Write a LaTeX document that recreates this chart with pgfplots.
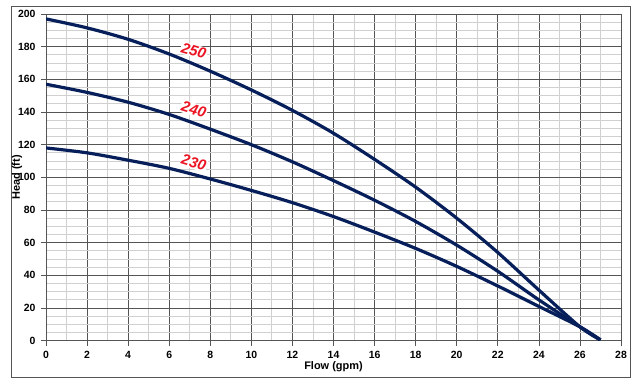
\documentclass[border=0pt]{standalone}
\usepackage{fontspec}
\setmainfont{Liberation Sans}
\usepackage{pgfplots}
\pgfplotsset{compat=1.18}
\definecolor{curve}{RGB}{6,30,90}
\definecolor{majg}{RGB}{85,85,85}
\definecolor{ming}{RGB}{208,208,208}
\definecolor{lab}{RGB}{235,20,35}
\begin{document}
\begin{tikzpicture}[x=1bp,y=1bp]
\path (0,0) rectangle (641,383);
\draw[color=majg, line width=0.9bp] (11,6) rectangle (630,377);
\begin{axis}[
  at={(46bp,42.3bp)}, anchor=south west,
  scale only axis, width=575bp, height=326.7bp,
  xmin=0, xmax=28, ymin=0, ymax=200,
  xtick={0,2,...,28}, ytick={0,20,...,200},
  minor xtick={1,3,...,27}, minor ytick={5,10,...,195},
  grid=both,
  major grid style={color=majg, line width=0.6bp},
  minor grid style={color=ming, line width=0.9bp},
  axis line style={color=majg, line width=0.8bp},
  axis x line*=bottom, axis y line*=left,
  tick style={color=majg, line width=0.6bp},
  tick align=outside, major tick length=5bp, minor tick length=0pt,
  /pgf/number format/assume math mode=true,
  ticklabel style={font=\fontsize{10.5}{11}\selectfont\bfseries},
  yticklabel style={xshift=-2bp},
  xticklabel style={yshift=-2bp},
  xlabel={Flow (gpm)}, ylabel={Head (ft)},
  label style={font=\fontsize{11}{12}\selectfont\bfseries},
  xlabel style={yshift=4bp},
  ylabel style={yshift=-11bp},
]
\addplot[curve, line width=3.2bp, smooth] coordinates {
(0,197) (2,191.5) (4,184.5) (6,175.5) (8,165) (10,153.5) (12,141) (14,127) (16,111) (18,94) (20,75) (22,54) (24,31) (26,8.5) (27,0.5)};
\addplot[curve, line width=3.2bp, smooth] coordinates {
(0,157) (2,152) (4,146) (6,138.5) (8,129.5) (10,120) (12,109.5) (14,98) (16,86) (18,73) (20,58.5) (22,42.5) (24,25) (26,8.5) (27,0.5)};
\addplot[curve, line width=3.2bp, smooth] coordinates {
(0,118) (2,115) (4,110.5) (6,105.5) (8,99) (10,92) (12,84.5) (14,76) (16,66.5) (18,56.5) (20,45.5) (22,33.5) (24,21) (26,8.5) (27,0.5)};
\node[fill=white, inner sep=1bp, rotate=-17, text=lab, font=\fontsize{15}{15}\selectfont\bfseries\itshape] at (axis cs:7.2,177.5) {250};
\node[fill=white, inner sep=1bp, rotate=-17, text=lab, font=\fontsize{15}{15}\selectfont\bfseries\itshape] at (axis cs:7.2,141.5) {240};
\node[fill=white, inner sep=1bp, rotate=-17, text=lab, font=\fontsize{15}{15}\selectfont\bfseries\itshape] at (axis cs:7.2,109) {230};
\end{axis}
\end{tikzpicture}
\end{document}
